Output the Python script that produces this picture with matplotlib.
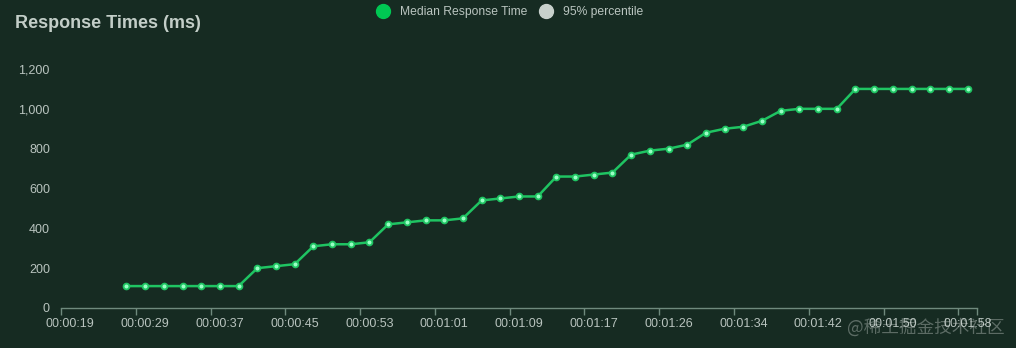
import numpy as np
import matplotlib
matplotlib.use("Agg")
import matplotlib.pyplot as plt
from matplotlib.lines import Line2D
from matplotlib.ticker import FuncFormatter

# category axis: 49 time buckets, label shown on every 4th one
tick_labels = ["00:00:19", "00:00:29", "00:00:37", "00:00:45", "00:00:53",
               "00:01:01", "00:01:09", "00:01:17", "00:01:26", "00:01:34",
               "00:01:42", "00:01:50", "00:01:58"]
n_categories = 49
label_step = 4

# median response time per bucket (first 3 buckets have no data)
median_ms = [None, None, None,
             110, 110, 110, 110, 110, 110, 110,
             200, 210, 220, 310, 320, 320, 330,
             420, 430, 440, 440, 450, 540, 550, 560, 560,
             660, 660, 670, 680, 770, 790, 800, 820,
             880, 900, 910, 940, 990, 1000, 1000, 1000,
             1100, 1100, 1100, 1100, 1100, 1100, 1100]
p95_ms = []  # series toggled off in the legend

bg = "#162b22"
green = "#1fc462"
text_col = "#b9c4bf"
axis_col = "#6f8a7d"

plt.rcParams["font.family"] = ["Liberation Sans", "DejaVu Sans"]

fig = plt.figure(figsize=(10.16, 3.48), dpi=100, facecolor=bg)
ax = fig.add_axes([61 / 1016, 40 / 348, 916 / 1016, 239 / 348])
ax.set_facecolor(bg)

x = np.arange(n_categories)
y = np.array([np.nan if v is None else v for v in median_ms], dtype=float)
ax.plot(x, y, color=green, lw=1.8, marker="o", markersize=4.2,
        markerfacecolor="#9affc6", markeredgecolor=green, markeredgewidth=1.3, zorder=3)

ax.set_xlim(-0.5, n_categories - 0.5)
ax.set_ylim(0, 1200)
ax.set_yticks(np.arange(0, 1201, 200))
ax.yaxis.set_major_formatter(FuncFormatter(lambda v, p: f"{int(v):,}"))

ax.set_xticks(x[::label_step])
ax.set_xticklabels(tick_labels)
ax.set_xticks(list(np.arange(-0.5, n_categories, label_step)) + [n_categories - 0.5], minor=True)
ax.tick_params(axis="x", which="major", length=0, pad=7, labelsize=9, colors=text_col)
ax.tick_params(axis="x", which="minor", length=5, width=1, color=axis_col, direction="out")
ax.tick_params(axis="y", length=0, pad=8, labelsize=9, colors=text_col)

for side in ["top", "right", "left"]:
    ax.spines[side].set_visible(False)
ax.spines["bottom"].set_color(axis_col)
ax.spines["bottom"].set_linewidth(1)

fig.text(15 / 1016, 1 - 23 / 348, "Response Times (ms)", fontsize=13, fontweight="bold",
         color="#c3cec8", va="center", ha="left")

handles = [Line2D([], [], ls="none", marker="o", markersize=10, color="#00c853"),
           Line2D([], [], ls="none", marker="o", markersize=10, color="#c8d1cc")]
fig.legend(handles, ["Median Response Time", "95% percentile"], loc="center",
           bbox_to_anchor=(510 / 1016, 1 - 12 / 348), ncol=2, frameon=False,
           fontsize=8.7, labelcolor=text_col, handletextpad=0.9, columnspacing=1.0,
           handlelength=1.0)

fig.text(1005 / 1016, 1 - 328 / 348, "@稀土掘金技术社区", fontsize=12.7, color="#dfe5e2",
         alpha=0.35, ha="right", va="center",
         family=["Noto Sans CJK SC", "DejaVu Sans"])

fig.savefig("out.png", dpi=100, facecolor=bg)
